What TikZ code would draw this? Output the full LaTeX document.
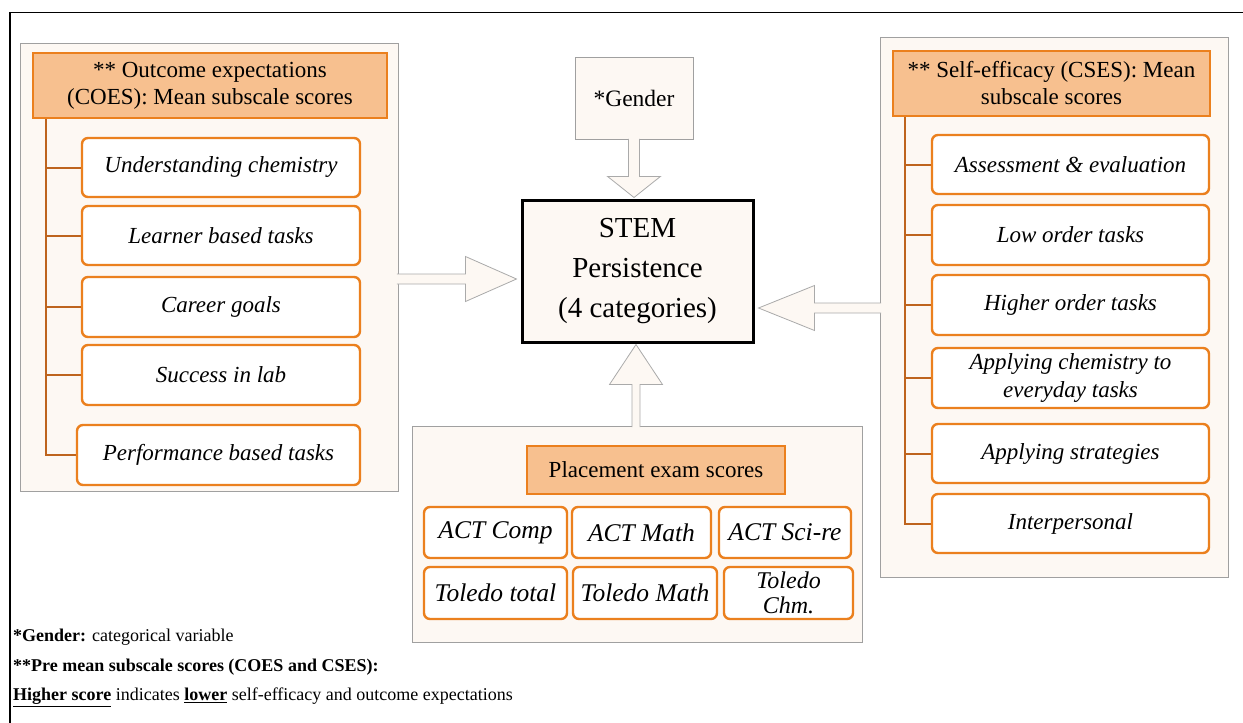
\documentclass[tikz,border=0pt]{standalone}
\usepackage{fontspec}
\setmainfont{Liberation Serif}
\usetikzlibrary{calc}
\definecolor{orbrd}{RGB}{235,128,30}
\definecolor{orfill}{RGB}{247,192,143}
\definecolor{treec}{RGB}{190,100,30}
\definecolor{panelfill}{RGB}{253,248,243}
\definecolor{panelbrd}{RGB}{160,160,160}
\definecolor{arrowbrd}{RGB}{170,170,170}
\begin{document}
\begin{tikzpicture}[x=1pt,y=-1pt,
 sz/.style 2 args={minimum width=#1pt, minimum height=#2pt},
 panel/.style={draw=panelbrd, fill=panelfill, line width=0.8pt, inner sep=0pt},
 header/.style={draw=orbrd, fill=orfill, line width=2.4pt, align=center, inner sep=2pt, font=\fontsize{23}{27}\selectfont},
 item/.style={draw=orbrd, fill=white, line width=2.4pt, rounded corners=6pt, align=center, inner sep=2pt, font=\fontsize{23}{28}\selectfont\itshape},
 gridbox/.style={item, font=\fontsize{25.5}{27}\selectfont\itshape},
 branch/.style={draw=treec, line width=2pt},
 blockarrow/.style={draw=arrowbrd, fill=panelfill, line width=0.8pt, line join=miter},
 note/.style={anchor=west, inner sep=0pt, font=\fontsize{18}{21}\selectfont}
]
\useasboundingbox (0,0) rectangle (1243,723);
% outer frame
\draw[line width=1.5pt] (10,723) -- (10,12.5) -- (1243,12.5);

% panels
\node[panel, sz={378}{448}] (lpanel) at (209,267) {};
\node[panel, sz={348}{540}] (rpanel) at (1054,307) {};
\node[panel, sz={450}{216}] (ppanel) at (637,534) {};

% centre nodes
\node[draw=panelbrd, fill=panelfill, line width=0.8pt, sz={118}{82}, font=\fontsize{23.5}{27}\selectfont] (gender) at (634,98) {*Gender};
\node[draw=black, fill=panelfill, line width=3pt, sz={231}{142}, align=center, font=\fontsize{29}{40}\selectfont] (stem) at (637.5,271) {STEM\\Persistence\\(4 categories)};

% left panel (COES)
\node[header, sz={354}{65}] (coes) at (210,85.5) {** Outcome expectations\\(COES): Mean subscale scores};
\node[item, sz={278}{59}] (uc) at (221,167.5) {Understanding chemistry};
\node[item, sz={278}{59}] (lbt) at (221,235.5) {Learner based tasks};
\node[item, sz={278}{60}] (cg) at (221,307) {Career goals};
\node[item, sz={278}{60}] (sil) at (221,375) {Success in lab};
\node[item, sz={283}{60}] (pbt) at (218.5,455) {Performance based tasks};
\coordinate (lroot) at ($(coes.south west)+(14,0)$);
\draw[branch] (lroot) |- (pbt.west);
\foreach \n in {uc,lbt,cg,sil} \draw[branch] (lroot |- \n.west) -- (\n.west);

% right panel (CSES)
\node[header, sz={317}{65}] (cses) at (1051.5,83.5) {** Self-efficacy (CSES): Mean\\subscale scores};
\node[item, sz={277}{59}] (ae) at (1070.5,164.5) {Assessment \& evaluation};
\node[item, sz={277}{60}] (lot) at (1070.5,235) {Low order tasks};
\node[item, sz={277}{60}] (hot) at (1070.5,305) {Higher order tasks};
\node[item, sz={277}{60}] (acet) at (1070.5,378) {Applying chemistry to\\everyday tasks};
\node[item, sz={277}{59}] (as) at (1070.5,453.5) {Applying strategies};
\node[item, sz={277}{59}] (ip) at (1070.5,523.5) {Interpersonal};
\coordinate (rroot) at ($(cses.south west)+(13,0)$);
\draw[branch] (rroot) |- (ip.west);
\foreach \n in {ae,lot,hot,acet,as} \draw[branch] (rroot |- \n.west) -- (\n.west);

% placement panel
\node[header, sz={258}{48}] (pes) at (656,470) {Placement exam scores};
\node[gridbox, sz={143}{51}] (actc) at (495.5,532.5) {ACT Comp};
\node[gridbox, sz={139}{51}] (actm) at (641.5,532.5) {ACT Math};
\node[gridbox, sz={132}{51}] (acts) at (785,532.5) {ACT Sci-re};
\node[gridbox, sz={143}{52}] (tt) at (495.5,593) {Toledo total};
\node[gridbox, sz={144}{52}] (tm) at (645,593) {Toledo Math};
\node[gridbox, sz={129}{52}, font=\fontsize{24}{25}\selectfont\itshape] (tc) at (788.5,593) {Toledo\\Chm.};

% block arrows
% gender -> stem
\coordinate (gs) at (gender.south);
\coordinate (gtip) at (gs |- stem.north);
\filldraw[blockarrow] ($(gs)+(-5.5,-0.5)$) -- ($(gs)+(-5.5,37)$) -- ($(gs)+(-26.5,37)$) -- ($(gtip)+(0,-1)$) -- ($(gs)+(26.5,37)$) -- ($(gs)+(5.5,37)$) -- ($(gs)+(5.5,-0.5)$);
% COES -> stem
\coordinate (latip) at ($(stem.west)+(-4,8)$);
\coordinate (labase) at ($(latip)+(-51,0)$);
\coordinate (lastart) at ($(lpanel.east |- latip)+(-1.5,0)$);
\filldraw[blockarrow] ($(lastart)+(0,-5)$) -- ($(labase)+(0,-5)$) -- ($(labase)+(0,-22.5)$) -- (latip) -- ($(labase)+(0,22.5)$) -- ($(labase)+(0,5)$) -- ($(lastart)+(0,5)$);
% CSES -> stem
\coordinate (ratip) at ($(stem.east)+(4,37)$);
\coordinate (rabase) at ($(ratip)+(56,0)$);
\coordinate (rastart) at ($(rpanel.west |- ratip)+(1.5,0)$);
\filldraw[blockarrow] ($(rastart)+(0,-5)$) -- ($(rabase)+(0,-5)$) -- ($(rabase)+(0,-22.5)$) -- (ratip) -- ($(rabase)+(0,22.5)$) -- ($(rabase)+(0,5)$) -- ($(rastart)+(0,5)$);
% placement -> stem
\coordinate (uatip) at ($(stem.south)+(-1.5,1)$);
\coordinate (uabase) at ($(uatip)+(0,40)$);
\coordinate (uastart) at ($(uatip |- ppanel.north)+(0,1.5)$);
\filldraw[blockarrow] ($(uastart)+(-4,0)$) -- ($(uabase)+(-4,0)$) -- ($(uabase)+(-26.5,0)$) -- (uatip) -- ($(uabase)+(26.5,0)$) -- ($(uabase)+(4,0)$) -- ($(uastart)+(4,0)$);

% notes
\node[note] (n1) at (13,637) {\textbf{*Gender:} categorical variable};
\node[note] (n2) at (13,667) {\textbf{**Pre mean subscale scores (COES and CSES):}};
\node[note] (n3) at (13,697) {\underline{\textbf{Higher score}} indicates \underline{\textbf{lower}} self-efficacy and outcome expectations};
\end{tikzpicture}
\end{document}
